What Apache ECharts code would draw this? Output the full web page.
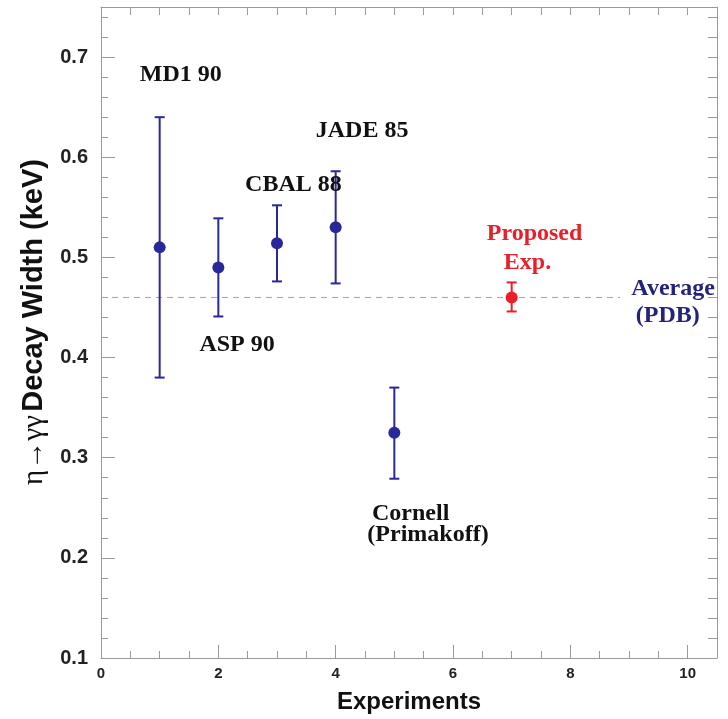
<!DOCTYPE html>
<html>
<head>
<meta charset="utf-8">
<script src="https://cdn.jsdelivr.net/npm/echarts@6/dist/echarts.min.js"></script>
<style>
html,body{margin:0;padding:0;background:#fff;}
#chart{width:728px;height:719px;}
</style>
</head>
<body>
<div id="chart"></div>
<script>
// ---- data ----
const experiments = [1, 2, 3, 4, 5];
const widths = [0.510, 0.490, 0.514, 0.530, 0.325];
const errLow = [0.380, 0.441, 0.476, 0.474, 0.279];
const errHigh = [0.640, 0.539, 0.552, 0.586, 0.370];

const proposedX = [7];
const proposedWidth = [0.460];
const proposedLow = [0.446];
const proposedHigh = [0.475];

const pdgAverage = 0.460;
const averageLineX = [0, 8.85];

const xTickValues = [0, 2, 4, 6, 8, 10];
const yTickValues = [0.1, 0.2, 0.3, 0.4, 0.5, 0.6, 0.7];

// annotation texts with anchor points in data coordinates
const labelTexts = ['MD1 90', 'JADE 85', 'CBAL 88', 'ASP 90', 'Proposed', 'Exp.', '(PDB)'];
const labelX = [1.36, 4.45, 3.28, 2.32, 7.39, 7.27, 9.66];
const labelY = [0.682, 0.626, 0.572, 0.413, 0.524, 0.495, 0.4415];
const labelColor = ['#111', '#111', '#111', '#111', '#e8202a', '#e8202a', '#23237e'];

const leftLabelTexts = ['Cornell', '(Primakoff)', 'Average'];
const leftLabelX = [4.62, 4.54, 9.04];
const leftLabelY = [0.2435, 0.223, 0.4683];
const leftLabelColor = ['#111', '#111', '#23237e'];

// ---- chart ----
const NAVY = '#29289a';
const RED = '#ee1c25';
const AXIS = '#9a9a9a';
const serif = '"Liberation Serif", "Times New Roman", serif';
const sans = '"Liberation Sans", Arial, sans-serif';

function errorBarItem(color) {
  return function (params, api) {
    const x = api.value(0);
    const lo = api.coord([x, api.value(1)]);
    const hi = api.coord([x, api.value(2)]);
    const cw = 5;
    const st = { stroke: color, lineWidth: 2 };
    return {
      type: 'group',
      children: [
        { type: 'line', shape: { x1: lo[0], y1: lo[1], x2: hi[0], y2: hi[1] }, style: st },
        { type: 'line', shape: { x1: lo[0] - cw, y1: lo[1], x2: lo[0] + cw, y2: lo[1] }, style: st },
        { type: 'line', shape: { x1: hi[0] - cw, y1: hi[1], x2: hi[0] + cw, y2: hi[1] }, style: st }
      ]
    };
  };
}

const xBase = { type: 'value', min: 0, max: 10.5, splitLine: { show: false } };
const yBase = { type: 'value', min: 0.1, max: 0.75, splitLine: { show: false } };

const option = {
  animation: false,
  backgroundColor: '#fff',
  grid: { left: 101, right: 11, top: 7, bottom: 56, containLabel: false },
  xAxis: [
    Object.assign({}, xBase, {
      position: 'bottom', interval: 2,
      axisLine: { show: true, onZero: false, lineStyle: { color: AXIS, width: 1 } },
      axisTick: { show: true, inside: true, length: 13, lineStyle: { color: AXIS } },
      axisLabel: {
        margin: 8, color: '#222', fontFamily: sans, fontWeight: 'bold', fontSize: 15,
        formatter: v => (xTickValues.indexOf(v) >= 0 ? String(v) : '')
      },
      name: 'Experiments', nameLocation: 'middle', nameGap: 32,
      nameTextStyle: { color: '#111', fontFamily: sans, fontWeight: 'bold', fontSize: 24 }
    }),
    Object.assign({}, xBase, {
      position: 'bottom', interval: 0.5,
      axisLine: { show: false, onZero: false },
      axisTick: { show: true, inside: true, length: 7, lineStyle: { color: AXIS } },
      axisLabel: { show: false }
    }),
    Object.assign({}, xBase, {
      position: 'top', interval: 0.5,
      axisLine: { show: true, onZero: false, lineStyle: { color: AXIS, width: 1 } },
      axisTick: { show: true, inside: true, length: 8, lineStyle: { color: AXIS } },
      axisLabel: { show: false }
    })
  ],
  yAxis: [
    Object.assign({}, yBase, {
      position: 'left', interval: 0.1,
      axisLine: { show: true, onZero: false, lineStyle: { color: AXIS, width: 1 } },
      axisTick: { show: true, inside: true, length: 14, lineStyle: { color: AXIS } },
      axisLabel: {
        margin: 13, color: '#222', fontFamily: sans, fontWeight: 'bold', fontSize: 20,
        formatter: v => {
          const r = Math.round(v * 10) / 10;
          return (Math.abs(r - v) < 1e-6 && yTickValues.indexOf(r) >= 0) ? r.toFixed(1) : '';
        }
      }
    }),
    Object.assign({}, yBase, {
      position: 'left', interval: 0.02,
      axisLine: { show: false, onZero: false },
      axisTick: { show: true, inside: true, length: 7, lineStyle: { color: AXIS } },
      axisLabel: { show: false }
    }),
    Object.assign({}, yBase, {
      position: 'right', interval: 0.02,
      axisLine: { show: true, onZero: false, lineStyle: { color: AXIS, width: 1 } },
      axisTick: { show: true, inside: true, length: 9, lineStyle: { color: AXIS } },
      axisLabel: { show: false }
    })
  ],
  graphic: [{
    type: 'text',
    x: 34, y: 322,
    rotation: Math.PI / 2,
    style: {
      text: '{g|η→γγ} {b|Decay Width (keV)}',
      align: 'center', verticalAlign: 'middle',
      rich: {
        g: { fontFamily: serif, fontSize: 29, fill: '#111' },
        b: { fontFamily: sans, fontWeight: 'bold', fontSize: 29, fill: '#111' }
      }
    }
  }],
  series: [
    {
      type: 'line',
      data: averageLineX.map(x => [x, pdgAverage]),
      symbol: 'none',
      itemStyle: { color: '#f27aa6' },
      lineStyle: { color: '#f27aa6', width: 1, type: [6, 5], opacity: 1 },
      z: 1, silent: true
    },
    {
      type: 'custom',
      renderItem: errorBarItem(NAVY),
      data: experiments.map((x, i) => [x, errLow[i], errHigh[i]]),
      z: 2, silent: true
    },
    {
      type: 'scatter',
      data: experiments.map((x, i) => [x, widths[i]]),
      symbol: 'circle', symbolSize: 12,
      itemStyle: { color: NAVY, opacity: 1 },
      z: 3
    },
    {
      type: 'custom',
      renderItem: errorBarItem(RED),
      data: proposedX.map((x, i) => [x, proposedLow[i], proposedHigh[i]]),
      z: 2, silent: true
    },
    {
      type: 'scatter',
      data: proposedX.map((x, i) => [x, proposedWidth[i]]),
      symbol: 'circle', symbolSize: 12,
      itemStyle: { color: RED, opacity: 1 },
      z: 3
    },
    {
      type: 'scatter',
      symbolSize: 0,
      silent: true,
      itemStyle: { opacity: 1 },
      data: labelTexts.map((t, i) => ({
        value: [labelX[i], labelY[i]],
        label: {
          show: true, position: 'inside', formatter: t,
          color: labelColor[i], fontFamily: serif, fontWeight: 'bold', fontSize: 24,
          align: 'center', verticalAlign: 'middle'
        }
      })),
      z: 4
    },
    {
      type: 'scatter',
      symbolSize: 0,
      silent: true,
      itemStyle: { opacity: 1 },
      data: leftLabelTexts.map((t, i) => ({
        value: [leftLabelX[i], leftLabelY[i]],
        label: {
          show: true, position: 'inside', formatter: t,
          color: leftLabelColor[i], fontFamily: serif, fontWeight: 'bold', fontSize: 24,
          align: 'left', verticalAlign: 'middle'
        }
      })),
      z: 4
    }
  ]
};

const chart = echarts.init(document.getElementById('chart'), null, { renderer: 'canvas' });
chart.setOption(option);
</script>
</body>
</html>
